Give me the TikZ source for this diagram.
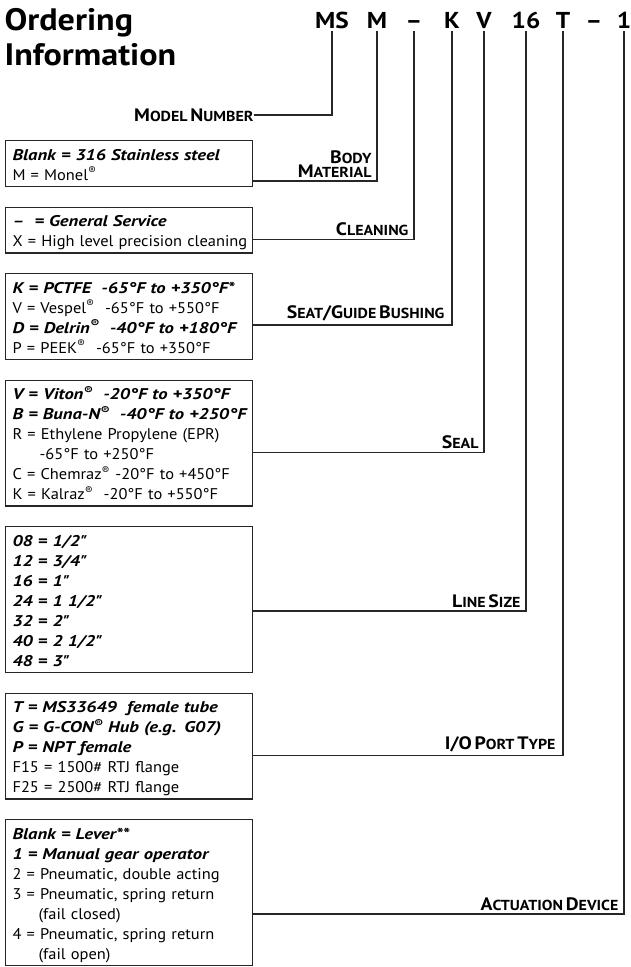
\documentclass[tikz,border=0pt]{standalone}
\usepackage{fontspec}
\setmainfont{PT Sans}[UprightFeatures={FakeStretch=1.06}, BoldFeatures={FakeStretch=1.1},
  BoldItalicFeatures={FakeStretch=1.2}]
\usetikzlibrary{positioning}

% small caps done by hand: big first letter, smaller rest
\newcommand\sm[2]{{\fontsize{18}{20}\selectfont #1}{\fontsize{14.5}{20}\selectfont #2}}
\newcommand\reg{\textsuperscript{\textregistered}}
\newcommand\bi[1]{\mbox{\bfseries\itshape #1}} % one line, never broken
\newcommand\rg[1]{\mbox{#1}}
\newcommand\inch{\textquotedbl}

\tikzset{
optbox/.style={draw, anchor=north west, align=left, text width=233pt, inner xsep=7pt, inner ysep=3pt,
  font=\fontsize{15.5}{20}\selectfont,
  execute at begin node={\rule{0pt}{16.5pt}}, execute at end node={\rule[-3.4pt]{0pt}{3.4pt}}}, % option lists
code/.style={font=\fontsize{23}{26}\selectfont\bfseries, anchor=base, inner sep=2pt}, % part number letters
field/.style={font=\bfseries, align=right, inner sep=0pt}, % field names
node distance=19.5pt,
}

\begin{document}
\begin{tikzpicture}[x=1pt, y=1pt, line width=1.1pt, draw=black!85]
\useasboundingbox (0,0) rectangle (631,-967);

% title
\node[anchor=base west, inner sep=0pt, font=\fontsize{31}{34}\selectfont\bfseries] (tOrd) at (4,-30) {Ordering};
\node[anchor=base west, inner sep=0pt, font=\fontsize{31}{34}\selectfont\bfseries] (tInf) at (4,-65) {Information};

% part number
\node[code] (cMS) at (332,-28.5) {MS};
\node[code] (cM) at (377,-28.5) {M};
\node[code] (cDa) at (414,-28.5) {--};
\node[code] (cK) at (452,-28.5) {K};
\node[code] (cV) at (484,-28.5) {V};
\node[code] (c16) at (526,-28.5) {16};
\node[code] (cT) at (563,-28.5) {T};
\node[code] (cDb) at (594,-28.5) {--};
\node[code] (c1) at (624,-28.5) {1};

% option boxes
\node[optbox] (b1) at (5,-140) {\bi{Blank = 316 Stainless steel}\\\rg{M = Monel\reg}};
\node[optbox, below=of b1] (b2) {\bi{--\ \ = General Service}\\\rg{X = High level precision cleaning}};
\node[optbox, below=of b2] (b3) {\bi{K = PCTFE\ \ -65°F to +350°F*}\\
  \rg{V = Vespel\reg\ \ -65°F to +550°F}\\
  \bi{D = Delrin\reg\ \ -40°F to +180°F}\\
  \rg{P = PEEK\reg\ \ -65°F to +350°F}};
\node[optbox, below=of b3] (b4) {\bi{V = Viton\reg\ \ -20°F to +350°F}\\
  \bi{B = Buna-N\reg\ \ -40°F to +250°F}\\
  \rg{R = Ethylene Propylene (EPR)}\\
  \hspace*{27pt}\rg{-65°F to +250°F}\\
  \rg{C = Chemraz\reg\ -20°F to +450°F}\\
  \rg{K = Kalraz\reg\ \ -20°F to +550°F}};
\node[optbox, below=of b4] (b5) {\bi{08 = 1/2\inch}\\\bi{12 = 3/4\inch}\\\bi{16 = 1\inch}\\\bi{24 = 1 1/2\inch}\\
  \bi{32 = 2\inch}\\\bi{40 = 2 1/2\inch}\\\bi{48 = 3\inch}};
\node[optbox, below=of b5] (b6) {\bi{T = MS33649\ \ female tube}\\
  \bi{G = G-CON\reg\ Hub (e.g. G07)}\\
  \bi{P = NPT female}\\
  \rg{F15 = 1500\# RTJ flange}\\
  \rg{F25 = 2500\# RTJ flange}};
\node[optbox, below=of b6] (b7) {\bi{Blank = Lever**}\\
  \bi{1 = Manual gear operator}\\
  \rg{2 = Pneumatic, double acting}\\
  \rg{3 = Pneumatic, spring return}\\
  \hspace*{26pt}(fail closed)\\
  \rg{4 = Pneumatic, spring return}\\
  \hspace*{26pt}(fail open)};

% where the leaders meet the boxes
\coordinate (e1) at ([yshift=-41pt]b1.north east);
\coordinate (e2) at ([yshift=-33pt]b2.north east);
\coordinate (e3) at ([yshift=-52pt]b3.north east);
\coordinate (e4) at ([yshift=-73pt]b4.north east);
\coordinate (e5) at ([yshift=-85pt]b5.north east);
\coordinate (e6) at ([yshift=-63pt]b6.north east);
\coordinate (e7) at ([yshift=-95pt]b7.north east);
\coordinate (k1) at (cM.south |- e1);
\coordinate (k2) at (cDa.south |- e2);
\coordinate (k3) at (cK.south |- e3);
\coordinate (k4) at (cV.south |- e4);
\coordinate (k5) at (c16.south |- e5);
\coordinate (k6) at (cT.south |- e6);
\coordinate (k7) at (c1.south |- e7);

% field names
\node[field, anchor=east] (fMod) at (254,-115) {\sm{M}{ODEL} \sm{N}{UMBER}};
\node[field, above left=3pt and 5pt of k1] (fBody) {\sm{B}{ODY}\\\sm{M}{ATERIAL}};
\node[field, above left=3pt and 5pt of k2] (fClean) {\sm{C}{LEANING}};
\node[field, above left=3pt and 7pt of k3] (fSeat) {\sm{S}{EAT}\sm{/G}{UIDE} \sm{B}{USHING}};
\node[field, above left=3pt and 5pt of k4] (fSeal) {\sm{S}{EAL}};
\node[field, above left=3pt and 5pt of k5] (fSize) {\sm{L}{INE} \sm{S}{IZE}};
\node[field, above left=3pt and 7pt of k6] (fPort) {\sm{I/O}{} \sm{P}{ORT} \sm{T}{YPE}};
\node[field, above left=3pt and 5pt of k7] (fAct) {\sm{A}{CTUATION} \sm{D}{EVICE}};

% leaders
\draw (cMS.south) |- (fMod.east);
\draw (cM.south) -- (k1) -- (e1);
\draw (cDa.south) -- (k2) -- (e2);
\draw (cK.south) -- (k3) -- (e3);
\draw (cV.south) -- (k4) -- (e4);
\draw (c16.south) -- (k5) -- (e5);
\draw (cT.south) -- (k6) -- (e6);
\draw (c1.south) -- (k7) -- (e7);
\end{tikzpicture}
\end{document}
